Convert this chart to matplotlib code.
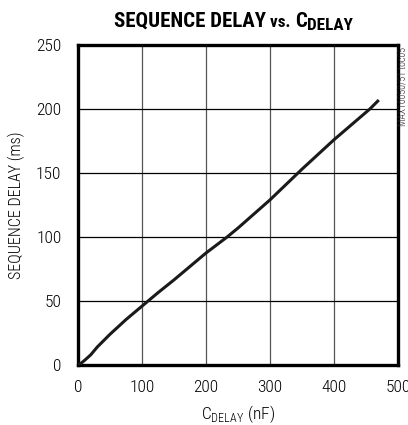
import matplotlib
matplotlib.use("Agg")
import matplotlib.pyplot as plt

cdelay_nf = [0, 5, 10, 20, 30, 50, 75, 100, 125, 150, 175, 200, 233, 250, 275, 300, 350, 400, 456, 470]
delay_ms = [0, 1.5, 3.5, 8, 14, 24, 35.5, 46, 56.5, 66.5, 77, 87.5, 100, 107, 118, 129, 153, 176, 200, 207]
x_ticks = [0, 100, 200, 300, 400, 500]
y_ticks = [0, 50, 100, 150, 200, 250]

plt.rcParams['font.family'] = ['Roboto Condensed', 'DejaVu Sans']
plt.rcParams['mathtext.fontset'] = 'custom'
plt.rcParams['mathtext.rm'] = 'Roboto Condensed'

fig = plt.figure(figsize=(4.08, 4.25), dpi=100)
ax = fig.add_axes([78/408, 60/425, 320/408, 320/425])

ax.plot(cdelay_nf, delay_ms, color="#1a1a1a", lw=2.2, solid_capstyle="butt", zorder=3)
ax.set_xlim(0, 500)
ax.set_ylim(0, 250)
ax.set_xticks(x_ticks)
ax.set_yticks(y_ticks)
ax.tick_params(length=0, labelsize=12.5)
ax.tick_params(axis="y", pad=12)
ax.tick_params(axis="x", pad=11)
for lab in ax.get_xticklabels() + ax.get_yticklabels():
    lab.set_fontweight(300)
ax.xaxis.grid(True, color="#555555", lw=0.9)
ax.yaxis.grid(True, color="black", lw=0.9)
for s in ax.spines.values():
    s.set_linewidth(2.4)

ax.set_ylabel("SEQUENCE DELAY (ms)", fontsize=11.5, labelpad=8, fontweight=300)
ax.set_xlabel(r"C$_{\mathregular{DELAY}}$ (nF)", fontsize=12.5, labelpad=6, fontweight=300)

fig.text(403/408, 1 - 86/425, "MAX16050/51 toc05", rotation=90, fontsize=7,
         ha="center", va="center", color="#222222", fontweight=300)

# title composed from pieces
fig.canvas.draw()
r = fig.canvas.get_renderer()
pieces = [("SEQUENCE DELAY ", 15, 0), ("vs. ", 12.3, 0), ("C", 15, 0), ("DELAY", 12.3, -3)]
widths = []
texts = []
for s, fs, dy in pieces:
    t = fig.text(0, 0, s, fontsize=fs, fontweight="bold", va="baseline", ha="left")
    bb = t.get_window_extent(r)
    widths.append(bb.width)
    texts.append((t, dy))
total = sum(widths)
x0 = 233 - total / 2
base_y = 425 - 27
xx = x0
for (t, dy), w in zip(texts, widths):
    t.set_position((xx / 408, (base_y + dy) / 425))
    xx += w

fig.savefig("out.png", dpi=100)
